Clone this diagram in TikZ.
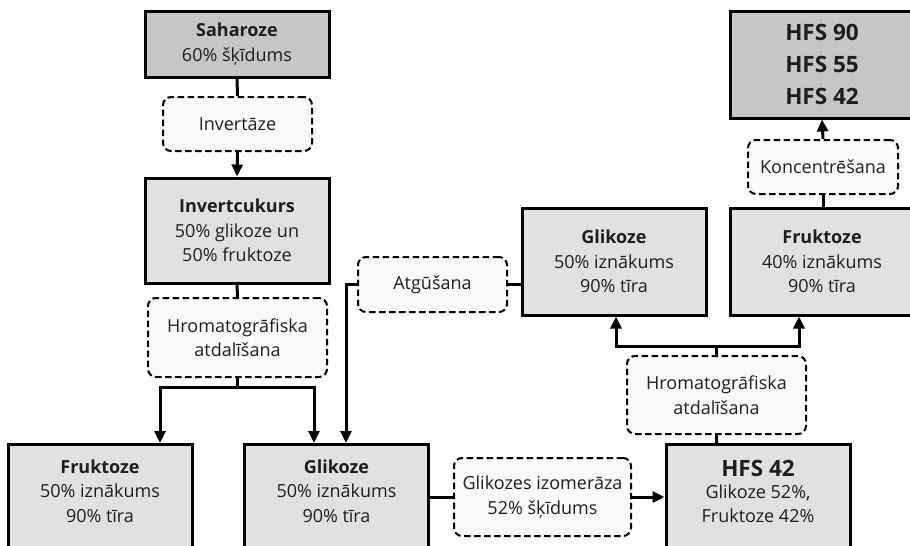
\documentclass[tikz,border=0pt]{standalone}
\usepackage{fontspec}
\setmainfont{Open Sans}
\usetikzlibrary{arrows.meta}
\definecolor{dk}{HTML}{C6C6C6}
\definecolor{lt}{HTML}{E1E1E1}
\definecolor{df}{HTML}{FAFAFA}
\definecolor{tx}{HTML}{1E1E1E}
\newcommand\myfs{\fontsize{18}{24.5}\selectfont}
\newcommand\mybig{\fontsize{22.5}{32}\selectfont}
\begin{document}
\begin{tikzpicture}[x=1pt,y=-1pt,
  box/.style={draw, line width=3pt, fill=lt, minimum width=184pt, align=center, inner sep=0pt, text=tx, font=\myfs},
  dbox/.style={draw, dash pattern=on 6.5pt off 3.5pt, line width=2pt, rounded corners=8pt, fill=df, align=center, inner sep=0pt, text=tx, font=\myfs},
  txt/.style={align=center, inner sep=0pt, text=tx, font=\myfs},
  conn/.style={line width=3pt},
  arr/.style={conn, -{Triangle[length=12pt,width=11pt]}}]
\clip (0,0) rectangle (910,546);
\fill[white] (0,0) rectangle (910,546);
% nodes
\node[box,fill=dk,minimum height=66pt] (sah) at (237,44) {\textbf{Saharoze}\\60\% šķīdums};
\node[dbox,minimum width=149pt,minimum height=54pt] (inv) at (237.5,124) {Invertāze};
\node[box,minimum height=105pt] (ic) at (237,230.5) {\textbf{Invertcukurs}\\50\% glikoze un\\50\% fruktoze};
\node[dbox,minimum width=179pt,minimum height=79pt] (hr1) at (237.5,337.5) {Hromatogrāfiska\\atdalīšana};
\node[box,minimum height=127pt,anchor=north] (fr1) at (100,443) {};
\node[txt] (fr1t) at (100,491) {\textbf{Fruktoze}\\50\% iznākums\\90\% tīra};
\node[box,minimum height=127pt,anchor=north] (gl2) at (336.5,443) {};
\node[txt] (gl2t) at (336.5,491) {\textbf{Glikoze}\\50\% iznākums\\90\% tīra};
\node[dbox,minimum width=177pt,minimum height=78pt] (giz) at (542.5,497) {Glikozes izomerāza\\52\% šķīdums};
\node[box,minimum height=127pt,anchor=north] (h42) at (758,443) {};
\node[txt,font=\mybig\bfseries] (h42a) at (758,468) {HFS 42};
\node[txt] (h42b) at (758,503.5) {Glikoze 52\%,\\Fruktoze 42\%};
\node[dbox,minimum width=179pt,minimum height=78pt] (hr2) at (716.5,395) {Hromatogrāfiska\\atdalīšana};
\node[dbox,minimum width=149pt,minimum height=55pt] (atg) at (432.5,284.5) {Atgūšana};
\node[box,minimum height=107pt] (gl1) at (614,261.5) {\textbf{Glikoze}\\50\% iznākums\\90\% tīra};
\node[box,minimum height=107pt] (fr2) at (822,261.5) {\textbf{Fruktoze}\\40\% iznākums\\90\% tīra};
\node[dbox,minimum width=150pt,minimum height=54pt] (kon) at (823,167) {Koncentrēšana};
\node[box,fill=dk,minimum height=107pt,font=\mybig\bfseries] (hfs) at (822,64.5) {HFS 90\\HFS 55\\HFS 42};
% junctions
\coordinate (j1) at (237.5,387);
\coordinate (j2) at (716.5,346);
% connectors
\draw[conn] (sah.south) -- (inv.north);
\draw[arr] (inv.south) -- (ic.north);
\draw[conn] (ic.south) -- (hr1.north);
\draw[conn] (hr1.south) -- (j1);
\draw[arr] (j1) -| ([xshift=60pt]fr1.north);
\draw[arr] (j1) -| ([xshift=-22.5pt]gl2.north);
\draw[arr] (atg.west) -| ([xshift=9.5pt]gl2.north);
\draw[conn] (atg.east) -- (atg.east -| gl1.west);
\draw[conn] (giz.west -| gl2.east) -- (giz.west);
\draw[arr] (giz.east) -- (giz.east -| h42.west);
\draw[conn] (hr2.south) -- (hr2.south |- h42.north);
\draw[conn] (hr2.north) -- (j2);
\draw[arr] (j2) -| ([xshift=2pt]gl1.south);
\draw[arr] (j2) -| ([xshift=-23pt]fr2.south);
\draw[conn] (kon.south) -- (kon.south |- fr2.north);
\draw[arr] (kon.north) -- (hfs.south);
\end{tikzpicture}
\end{document}
